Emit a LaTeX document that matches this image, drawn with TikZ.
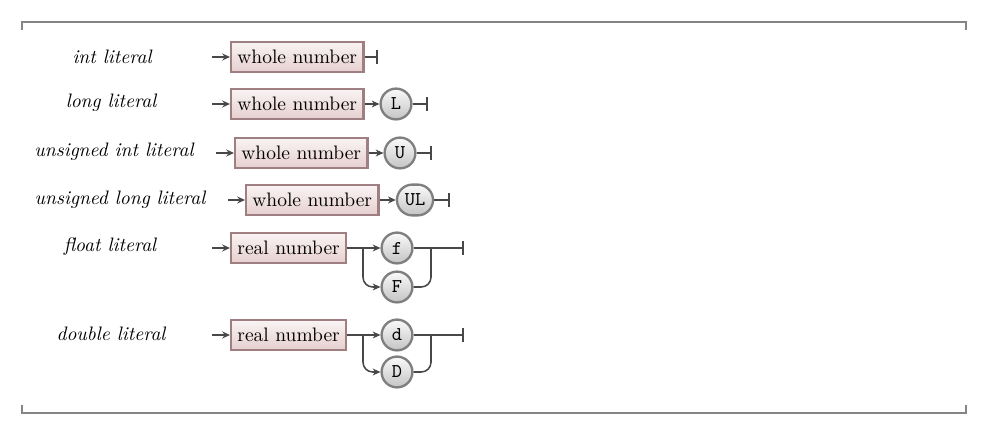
\documentclass[tikz,border=0pt]{standalone}
\usetikzlibrary{arrows.meta}
\definecolor{linec}{HTML}{484848}
\definecolor{boxborder}{HTML}{A07F82}
\definecolor{boxtop}{HTML}{FAF4F4}
\definecolor{boxbot}{HTML}{E6CFCF}
\definecolor{termborder}{HTML}{7F7F7F}
\definecolor{termtop}{HTML}{FAFAFA}
\definecolor{termbot}{HTML}{C4C4C4}
\definecolor{frame}{HTML}{858585}
\begin{document}
\begin{tikzpicture}[x=0.513pt,y=-0.513pt,
  conn/.style={draw=linec,line width=0.8pt},
  arr/.style={conn,-{Stealth[length=4pt,width=3.6pt]}},
  fin/.style={conn,-{Bar[width=7pt,line width=0.8pt]}},
  nonterm/.style={draw=boxborder,line width=1.2pt,top color=boxtop,bottom color=boxbot,
    minimum height=15.6pt,inner xsep=3.2pt,inner ysep=0pt,anchor=west},
  term/.style={draw=termborder,line width=1.2pt,top color=termtop,bottom color=termbot,
    rounded corners=7.9pt,minimum height=15.8pt,minimum width=15.8pt,inner xsep=4pt,inner ysep=0pt,
    font=\ttfamily},
  lbl/.style={font=\itshape},
  framec/.style={draw=frame,line width=0.8pt}]
\useasboundingbox (0,0) rectangle (987,436);
% frame
\draw[framec] (22,30) -- (22,22) -- (966,22) -- (966,30);
\draw[framec] (22,405) -- (22,413) -- (966,413) -- (966,405);
% labels
\node[lbl] (l1) at (112,57) {int literal};
\node[lbl] (l2) at (111,103) {long literal};
\node[lbl] (l3) at (114,152) {unsigned int literal};
\node[lbl] (l4) at (120,200) {unsigned long literal};
\node[lbl] (l5) at (110,247) {float literal};
\node[lbl] (l6) at (111,334) {double literal};
% row 1
\coordinate (s1) at (212,57);
\node[nonterm] (b1) at (230,57) {whole number};
\coordinate (e1) at (378,57);
\draw[arr] (s1) -- (b1.west);
\draw[fin] (b1.east) -- (e1);
% row 2
\coordinate (s2) at (212,104);
\node[nonterm] (b2) at (230,104) {whole number};
\node[term] (t2) at (396,104) {L};
\coordinate (e2) at (428,104);
\draw[arr] (s2) -- (b2.west);
\draw[arr] (b2.east) -- (t2.west);
\draw[fin] (t2.east) -- (e2);
% row 3
\coordinate (s3) at (216,153);
\node[nonterm] (b3) at (234,153) {whole number};
\node[term] (t3) at (400,153) {U};
\coordinate (e3) at (432,153);
\draw[arr] (s3) -- (b3.west);
\draw[arr] (b3.east) -- (t3.west);
\draw[fin] (t3.east) -- (e3);
% row 4
\coordinate (s4) at (228,200);
\node[nonterm] (b4) at (245,200) {whole number};
\node[term] (t4) at (415,200) {UL};
\coordinate (e4) at (450,200);
\draw[arr] (s4) -- (b4.west);
\draw[arr] (b4.east) -- (t4.west);
\draw[fin] (t4.east) -- (e4);
% row 5
\coordinate (s5) at (212,248);
\node[nonterm] (b5) at (230,248) {real number};
\node[term] (t5a) at (397,248) {f};
\node[term] (t5b) at (397,287) {F};
\coordinate (j5) at (363,248);
\coordinate (k5) at (431,248);
\coordinate (e5) at (464,248);
\draw[arr] (s5) -- (b5.west);
\draw[arr] (b5.east) -- (t5a.west);
\draw[arr,rounded corners=5pt] (j5) |- (t5b.west);
\draw[fin] (t5a.east) -- (e5);
\draw[conn,rounded corners=5pt] (t5b.east) -| (k5);
% row 6
\coordinate (s6) at (212,335);
\node[nonterm] (b6) at (230,335) {real number};
\node[term] (t6a) at (397,335) {d};
\node[term] (t6b) at (397,372) {D};
\coordinate (j6) at (363,335);
\coordinate (k6) at (431,335);
\coordinate (e6) at (464,335);
\draw[arr] (s6) -- (b6.west);
\draw[arr] (b6.east) -- (t6a.west);
\draw[arr,rounded corners=5pt] (j6) |- (t6b.west);
\draw[fin] (t6a.east) -- (e6);
\draw[conn,rounded corners=5pt] (t6b.east) -| (k6);
\end{tikzpicture}
\end{document}
